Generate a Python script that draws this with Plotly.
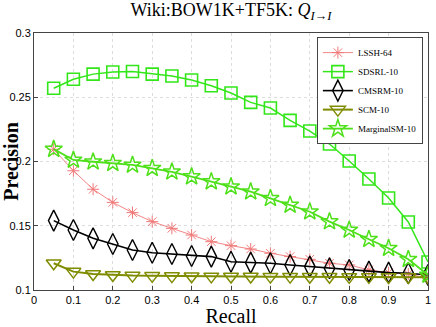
import plotly.graph_objects as go

recall = [0.05, 0.1, 0.15, 0.2, 0.25, 0.3, 0.35, 0.4, 0.45, 0.5,
          0.55, 0.6, 0.65, 0.7, 0.75, 0.8, 0.85, 0.9, 0.95, 1.0]

lssh = [0.2095, 0.1928, 0.1784, 0.1682, 0.1602, 0.1532, 0.1480, 0.1428, 0.1376, 0.1345,
        0.1319, 0.1286, 0.1260, 0.1239, 0.1208, 0.1195, 0.1156, 0.1135, 0.1125, 0.1091]
sdsrl = [0.2570, 0.2640, 0.2680, 0.2696, 0.2700, 0.2680, 0.2665, 0.2634, 0.2590, 0.2533,
         0.2460, 0.2416, 0.2320, 0.2237, 0.2136, 0.2004, 0.1864, 0.1716, 0.1529, 0.1218]
cmsrm = [0.1540, 0.1467, 0.1402, 0.1358, 0.1311, 0.1290, 0.1280, 0.1265, 0.1260, 0.1220,
         0.1213, 0.1208, 0.1195, 0.1182, 0.1169, 0.1156, 0.1143, 0.1135, 0.1130, 0.1117]
scm = [0.1208, 0.1143, 0.1125, 0.1117, 0.1112, 0.1110, 0.1108, 0.1107, 0.1106, 0.1105,
       0.1105, 0.1104, 0.1104, 0.1103, 0.1103, 0.1102, 0.1102, 0.1101, 0.1101, 0.1100]
marginal = [0.2096, 0.2012, 0.1998, 0.1986, 0.1973, 0.1947, 0.1920, 0.1882, 0.1843, 0.1804,
            0.1765, 0.1713, 0.1661, 0.1609, 0.1532, 0.1467, 0.1395, 0.1325, 0.1239, 0.1117]

x_ticks = [0, 0.1, 0.2, 0.3, 0.4, 0.5, 0.6, 0.7, 0.8, 0.9, 1]
x_tick_text = ["0", "0.1", "0.2", "0.3", "0.4", "0.5", "0.6", "0.7", "0.8", "0.9", "1"]
y_ticks = [0.1, 0.15, 0.2, 0.25, 0.3]
y_tick_text = ["0.1", "0.15", "0.2", "0.25", "0.3"]

RED = "#f07878"
GREEN = "#33e61a"
OLIVE = "#7f8c00"
LIME = "#4ee01a"

series = [
    ("LSSH-64", lssh, dict(color=RED, width=0.9),
     dict(symbol="asterisk-open", size=10, line=dict(color=RED, width=1))),
    ("SDSRL-10", sdsrl, dict(color=GREEN, width=1.5),
     dict(symbol="square-open", size=12, line=dict(color=GREEN, width=1.6))),
    ("CMSRM-10", cmsrm, dict(color="black", width=1.6),
     dict(symbol="diamond-tall-open", size=15, line=dict(color="black", width=1.4))),
    ("SCM-10", scm, dict(color=OLIVE, width=2),
     dict(symbol="triangle-down-open", size=13, line=dict(color=OLIVE, width=1.5))),
    ("MarginalSM-10", marginal, dict(color=LIME, width=1.8),
     dict(symbol="star-open", size=13, line=dict(color=LIME, width=1.5))),
]

fig = go.Figure()
for name, ys, line, marker in series:
    fig.add_trace(go.Scatter(
        x=recall, y=ys, mode="lines+markers", name=name,
        line=line, marker=marker,
    ))

axis_common = dict(
    showline=True, linecolor="#444", linewidth=1, mirror=True,
    ticks="inside", ticklen=4, tickcolor="#444",
    showgrid=True, gridcolor="#dcdcdc", griddash="dot", gridwidth=1,
    zeroline=False, automargin=False,
    tickfont=dict(family="Liberation Sans", size=11, color="black"),
)

fig.update_layout(
    width=436, height=327,
    margin=dict(l=34, r=8, t=33, b=37),
    plot_bgcolor="white", paper_bgcolor="white",
    title=dict(
        text="Wiki:BOW1K+TF5K: <i>Q</i><sub><i>I</i>→<i>I</i></sub>",
        x=0.5, xref="paper", xanchor="center", y=0.99, yanchor="top",
        font=dict(family="Liberation Serif", size=18, color="black"),
    ),
    xaxis=dict(range=[0, 1], tickvals=x_ticks, ticktext=x_tick_text,
               title=dict(text="Recall", standoff=0,
                          font=dict(family="Liberation Serif", size=20, color="black")),
               **axis_common),
    yaxis=dict(range=[0.1, 0.3], tickvals=y_ticks, ticktext=y_tick_text,
               title=dict(text="<b>Precision</b>", standoff=0,
                          font=dict(family="Liberation Serif", size=20, color="black")),
               **axis_common),
    legend=dict(
        x=0.987, y=0.984, xanchor="right", yanchor="top",
        bgcolor="white", bordercolor="#444", borderwidth=1,
        font=dict(family="Liberation Serif", size=9, color="black"),
        itemwidth=30, tracegroupgap=0,
    ),
)

fig.write_html("out.html", config={"displayModeBar": False},
               post_script="document.body.style.margin='0';")
